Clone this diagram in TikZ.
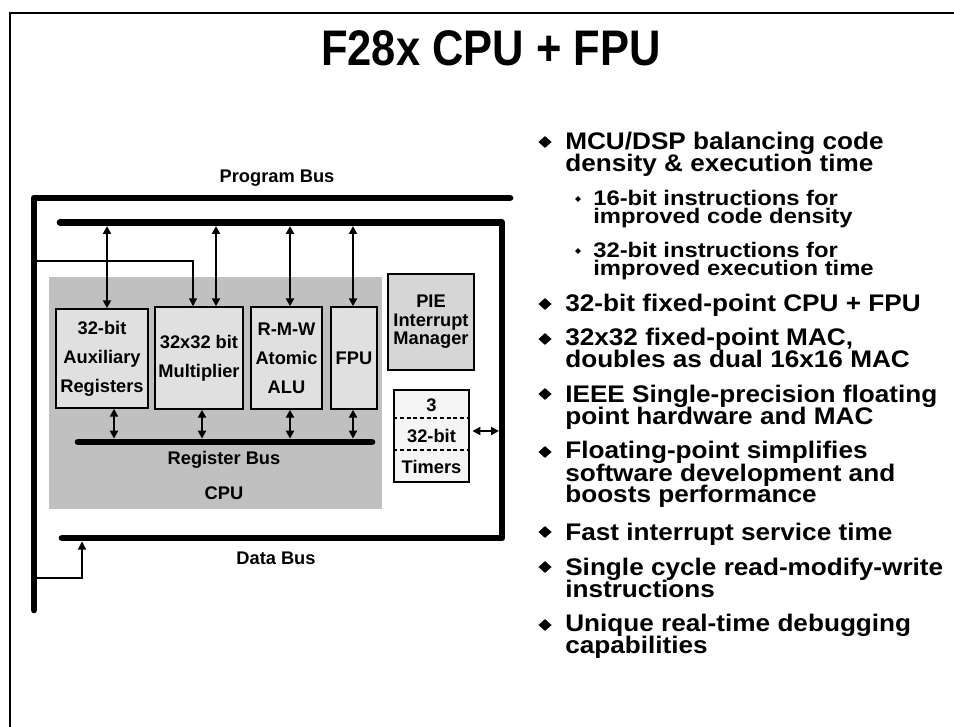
\documentclass[tikz,border=0pt]{standalone}
\usepackage{fontspec}
\setmainfont{Liberation Sans}
\usetikzlibrary{arrows.meta,shapes.geometric}

\definecolor{cpugray}{HTML}{C0C0C0}
\definecolor{unitgray}{HTML}{E0E0E0}
\definecolor{piegray}{HTML}{D6D6D6}
\definecolor{tmrgray}{HTML}{F5F5F5}

\newcommand\boxfont{\fontsize{13.7}{21.75}\selectfont\bfseries}
\newcommand\itemfont{\fontsize{18}{16.5}\selectfont\bfseries\lineskiplimit=-20pt}
\newcommand\subfont{\fontsize{15.8}{14}\selectfont\bfseries\lineskiplimit=-20pt}

\begin{document}
\begin{tikzpicture}[x=0.75pt,y=-0.75pt,>={Triangle[length=6pt,width=6pt]},line cap=round,
  bus/.style={line width=5pt,line join=round},
  link/.style={<->,line width=1.5pt},
  tap/.style={->,line width=0.8pt},
  unit/.style={draw,line width=1.1pt,fill=unitgray,align=center,font=\boxfont,inner sep=0pt},
  lbl/.style={font=\boxfont},
  item/.style={anchor=base west,align=left,font=\itemfont,inner sep=0pt,xscale=1.09},
  subitem/.style={anchor=base west,align=left,font=\subfont,inner sep=0pt,xscale=1.13},
  dia/.style={diamond,fill=black,inner sep=0pt,minimum width=10pt,minimum height=9pt},
  subdia/.style={diamond,fill=black,inner sep=0pt,minimum width=4.5pt,minimum height=4.5pt}]
\useasboundingbox (0,0) rectangle (954,727);
\draw[line width=1.3pt,line cap=butt] (10,727) -- (10,13) -- (954,13);

% title
\node[anchor=base,font=\fontsize{37.5}{40}\selectfont\bfseries,xscale=0.87] (title) at (491,66) {F28x CPU + FPU};

% cpu core and units
\node[fill=cpugray,minimum width=249.75pt,minimum height=174pt,inner sep=0pt] (cpu) at (215.5,393) {};
\node[unit,minimum width=69pt,minimum height=74.25pt] (aux) at (102,358.5) {32-bit\\Auxiliary\\Registers};
\node[unit,minimum width=66pt,minimum height=76.5pt] (mul) at (199,358) {32x32 bit\\Multiplier};
\node[unit,minimum width=53.25pt,minimum height=76.5pt] (alu) at (286.5,358) {R-M-W\\Atomic\\ALU};
\node[unit,minimum width=34.5pt,minimum height=76.5pt] (fpu) at (354,358) {FPU};
\node[unit,fill=piegray,minimum width=64.5pt,minimum height=72pt,font=\fontsize{13.7}{13.9}\selectfont\bfseries] (pie) at (431,322) {PIE\\Interrupt\\Manager};
\node[unit,fill=tmrgray,minimum width=56.25pt,minimum height=69pt,font=\fontsize{13.7}{23.25}\selectfont\bfseries] (tmr) at (431.5,436) {3\\32-bit\\Timers};
\draw[line width=1.1pt,dash pattern=on 3pt off 2pt,line cap=butt] (tmr.west |- 0,418) -- (tmr.east |- 0,418);
\draw[line width=1.1pt,dash pattern=on 3pt off 2pt,line cap=butt] (tmr.west |- 0,450) -- (tmr.east |- 0,450);

% buses
\coordinate (pbL) at (34,610);
\coordinate (pbC) at (34,198);
\coordinate (pbR) at (510,198);
\coordinate (ibL) at (60,222.5);
\coordinate (ibR) at (502,222.5);
\coordinate (dbR) at (502,538);
\coordinate (dbL) at (62,538);
\coordinate (rbL) at (78,442);
\coordinate (rbR) at (372,442);
\draw[bus] (pbL) -- (pbC) -- (pbR);
\draw[bus] (ibL) -- (ibR) -- (dbR) -- (dbL);
\draw[bus] (rbL) -- (rbR);

% unit links
\foreach \u/\xa/\xb in {aux/107/114,mul/216/202,alu/290/290,fpu/353/353}{
  \draw[link] (\xa,226) -- (\xa,0 |- \u.north);
  \draw[link] (\xb,0 |- \u.south) -- (\xb,438.6);
}
\coordinate (tr) at (499,431);
\draw[link,shorten <=2pt] (tmr.east |- tr) -- (tr);
\coordinate (tapA) at (34,261);
\coordinate (tapB) at (34,578);
\coordinate (dbT) at (82,541.5);
\draw[tap] (tapA) -| ([xshift=-4.5pt]mul.north);
\draw[tap] (tapB) -| (dbT);

% bus labels
\node[lbl] (pblbl) at (277,178) {Program Bus};
\node[lbl] (rblbl) at (224,460) {Register Bus};
\node[lbl] (cpulbl) at (224,493) {CPU};
\node[lbl] (dblbl) at (276,558) {Data Bus};

% feature list (base = last line)
\node[item] (b1) at (565,172) {MCU/DSP balancing code\\density \& execution time};
\node[subitem] (s1) at (593,224) {16-bit instructions for\\improved code density};
\node[subitem] (s2) at (593,276) {32-bit instructions for\\improved execution time};
\node[item] (b2) at (565,312) {32-bit fixed-point CPU + FPU};
\node[item] (b3) at (565,368) {32x32 fixed-point MAC,\\doubles as dual 16x16 MAC};
\node[item] (b4) at (565,425) {IEEE Single-precision floating\\point hardware and MAC};
\node[item] (b5) at (565,503) {Floating-point simplifies\\software development and\\boosts performance};
\node[item] (b6) at (565,540) {Fast interrupt service time};
\node[item] (b7) at (565,597) {Single cycle read-modify-write\\instructions};
\node[item] (b8) at (565,653) {Unique real-time debugging\\capabilities};
\foreach \y [count=\i] in {150,312,347,402,460,540,575,633}
  \node[dia] (d\i) at (545,\y-8) {};
\foreach \y [count=\i] in {205,257}
  \node[subdia] (e\i) at (578,\y-6) {};
\end{tikzpicture}
\end{document}
